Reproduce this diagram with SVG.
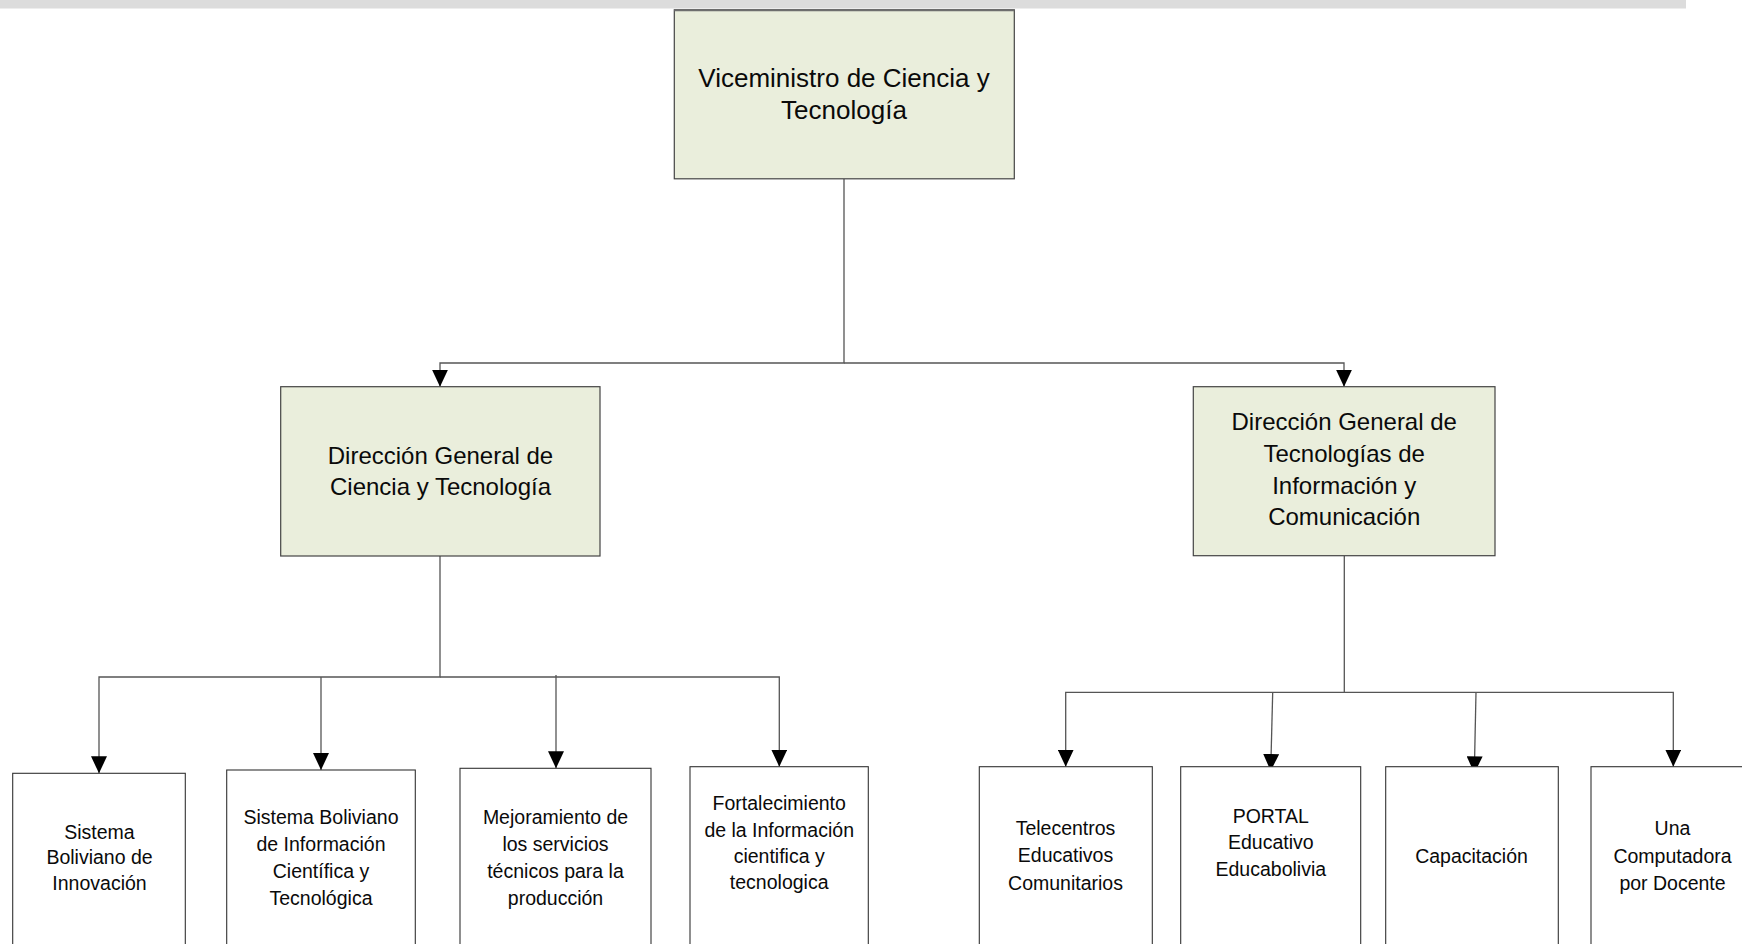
<svg xmlns="http://www.w3.org/2000/svg" width="1742" height="944" viewBox="0 0 1742 944">
  <style>
    .top { fill: #eaeedc; stroke: #444; stroke-width: 1.2; }
    .box { fill: #ffffff; stroke: #333; stroke-width: 1.1; }
    .conn { fill: none; stroke: #555; stroke-width: 1.3; }
    text { font-family: "Liberation Sans", Arial, sans-serif; fill: #0a0a0a; text-anchor: middle; }
    .t1 { font-size: 26px; }
    .t2 { font-size: 24px; }
    .t3 { font-size: 19.5px; }
  </style>
  <defs>
    <marker id="arr" viewBox="0 0 17 16" refX="17" refY="8" markerWidth="17" markerHeight="16" markerUnits="userSpaceOnUse" orient="auto">
      <path d="M0,0 L17,8 L0,16 z" fill="#000"/>
    </marker>
  </defs>
  <rect x="0" y="0" width="1686" height="8.5" fill="#dcdcdc"/>

  <g id="connectors">
    <path class="conn" d="M844,179 V363 H440 V386.7" marker-end="url(#arr)"/>
    <path class="conn" d="M844,363 H1344 V386.7" marker-end="url(#arr)"/>
    <path class="conn" d="M440,556 V677 H99 V773.3" marker-end="url(#arr)"/>
    <path class="conn" d="M321,677 V770" marker-end="url(#arr)"/>
    <path class="conn" d="M556,675 V768.3" marker-end="url(#arr)"/>
    <path class="conn" d="M440,677 H779.3 V766.7" marker-end="url(#arr)"/>
    <path class="conn" d="M1344.3,556 V692.3 H1065.7 V766.7" marker-end="url(#arr)"/>
    <path class="conn" d="M1272.7,692.3 L1270.7,771" marker-end="url(#arr)"/>
    <path class="conn" d="M1476,692.3 L1474.3,773.3" marker-end="url(#arr)"/>
    <path class="conn" d="M1344.3,692.3 H1673.3 V766.7" marker-end="url(#arr)"/>
  </g>

  <g id="n-viceministro">
    <rect class="top" x="674.3" y="9.8" width="340" height="169"/>
    <line x1="674.3" y1="10.3" x2="1014.3" y2="10.3" stroke="#6e6e6e" stroke-width="2"/>
    <text class="t1" x="844" y="86.5">Viceministro de Ciencia y</text>
    <text class="t1" x="844" y="118.5">Tecnología</text>
  </g>

  <g id="n-dgct">
    <rect class="top" x="280.7" y="386.7" width="319.3" height="169.3"/>
    <text class="t2" x="440.5" y="463.5">Dirección General de</text>
    <text class="t2" x="440.5" y="495.2">Ciencia y Tecnología</text>
  </g>

  <g id="n-dgtic">
    <rect class="top" x="1193.3" y="386.7" width="301.7" height="169"/>
    <text class="t2" x="1344.2" y="430.2">Dirección General de</text>
    <text class="t2" x="1344.2" y="461.8">Tecnologías de</text>
    <text class="t2" x="1344.2" y="493.5">Información y</text>
    <text class="t2" x="1344.2" y="525.2">Comunicación</text>
  </g>

  <g id="n-sbi">
    <rect class="box" x="12.7" y="773.3" width="172.6" height="190"/>
    <text class="t3" x="99.5" y="838.5">Sistema</text>
    <text class="t3" x="99.5" y="864">Boliviano de</text>
    <text class="t3" x="99.5" y="890">Innovación</text>
  </g>

  <g id="n-sbict">
    <rect class="box" x="226.7" y="770" width="188.6" height="190"/>
    <text class="t3" x="321" y="824.2">Sistema Boliviano</text>
    <text class="t3" x="321" y="851.2">de Información</text>
    <text class="t3" x="321" y="878.2">Científica y</text>
    <text class="t3" x="321" y="905.2">Tecnológica</text>
  </g>

  <g id="n-mejoramiento">
    <rect class="box" x="460" y="768.3" width="191" height="190"/>
    <text class="t3" x="555.5" y="823.5">Mejoramiento de</text>
    <text class="t3" x="555.5" y="850.8">los servicios</text>
    <text class="t3" x="555.5" y="878">técnicos para la</text>
    <text class="t3" x="555.5" y="905.2">producción</text>
  </g>

  <g id="n-fortalecimiento">
    <rect class="box" x="690" y="766.7" width="178.3" height="190"/>
    <text class="t3" x="779.2" y="810.2">Fortalecimiento</text>
    <text class="t3" x="779.2" y="836.8">de la Información</text>
    <text class="t3" x="779.2" y="863">cientifica y</text>
    <text class="t3" x="779.2" y="889">tecnologica</text>
  </g>

  <g id="n-telecentros">
    <rect class="box" x="979.3" y="766.7" width="173" height="190"/>
    <text class="t3" x="1065.5" y="835.2">Telecentros</text>
    <text class="t3" x="1065.5" y="862">Educativos</text>
    <text class="t3" x="1065.5" y="889.5">Comunitarios</text>
  </g>

  <g id="n-portal">
    <rect class="box" x="1180.7" y="766.7" width="180" height="190"/>
    <text class="t3" x="1270.8" y="822.5">PORTAL</text>
    <text class="t3" x="1270.8" y="849.2">Educativo</text>
    <text class="t3" x="1270.8" y="875.8">Educabolivia</text>
  </g>

  <g id="n-capacitacion">
    <rect class="box" x="1385.7" y="766.7" width="172.6" height="190"/>
    <text class="t3" x="1471.5" y="862.5">Capacitación</text>
  </g>

  <g id="n-computadora">
    <rect class="box" x="1591" y="766.7" width="165" height="190"/>
    <text class="t3" x="1672.5" y="835.2">Una</text>
    <text class="t3" x="1672.5" y="862.5">Computadora</text>
    <text class="t3" x="1672.5" y="889.5">por Docente</text>
  </g>
</svg>
